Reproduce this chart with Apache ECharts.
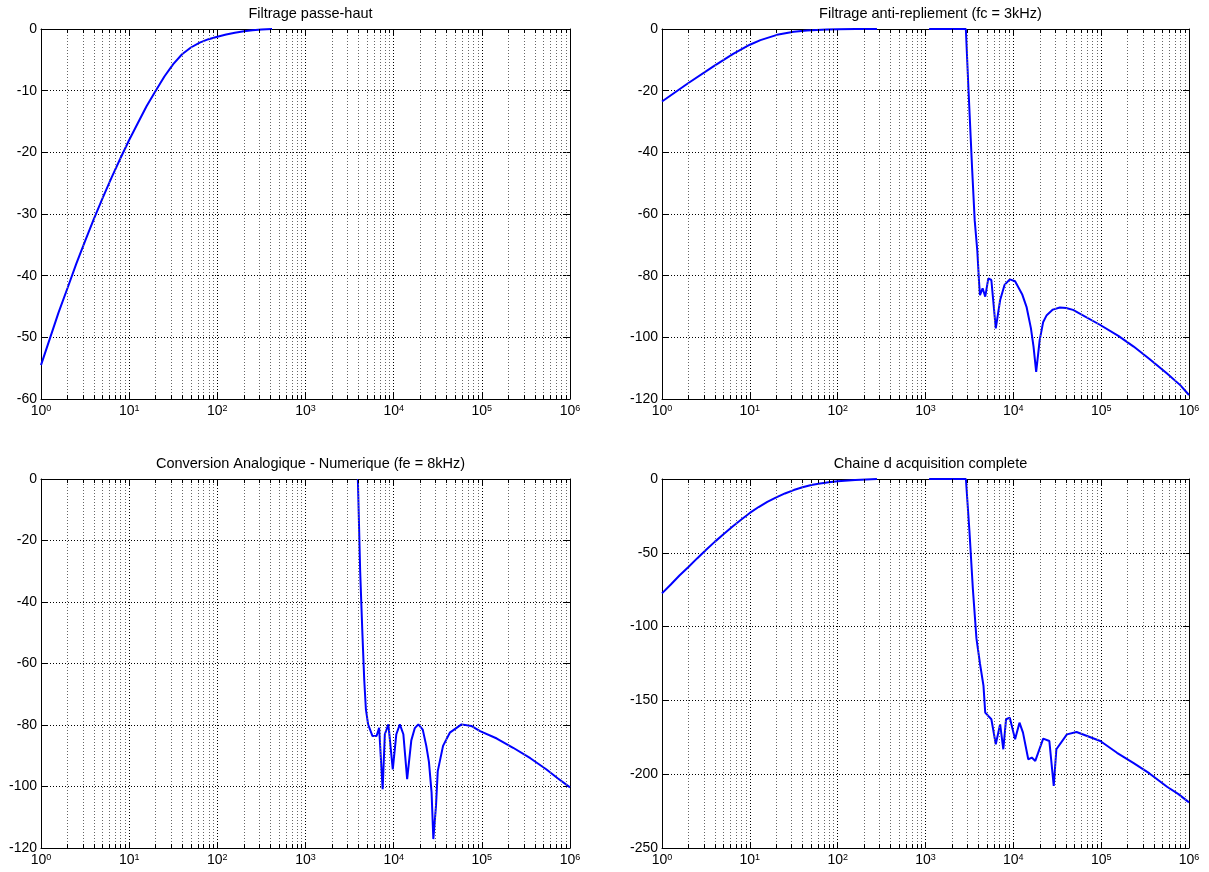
<!DOCTYPE html>
<html>
<head>
<meta charset="utf-8">
<title>Chaine d acquisition</title>
<script src="https://cdn.jsdelivr.net/npm/echarts@6/dist/echarts.min.js"></script>
<style>
    html, body { margin: 0; padding: 0; background: #fff; }
    #chart { width: 1209px; height: 872px; }
</style>
</head>
<body>
<div id="chart"></div>
<script>
    // Filtrage passe-haut
    let freqHP = [1, 1.26, 1.58, 2, 2.51, 3.16, 3.98, 5.01, 6.31, 7.94, 10, 12.6, 15.8, 20, 25.1, 31.6,
        39.8, 50.1, 63.1, 79.4, 100, 126, 158, 200, 251, 316, 417]
    let dbHP = [-54.5, -50.2, -46, -42, -38.1, -34.4, -30.8, -27.4, -24.1, -21, -18, -15.2, -12.5, -10,
        -7.7, -5.7, -4.1, -3, -2.2, -1.65, -1.25, -0.9, -0.6, -0.37, -0.2, -0.08, 0]

    // Filtrage anti-repliement (null = courbe cachee sous le cadre a 0 dB)
    let freqAA = [1, 2, 3.85, 6.46, 10, 13.2, 20.4, 31.6, 44.7, 57.5, 75, 100, 160, 280, 600, 1100, 2880,
        3090, 3390, 3630, 3890, 4070, 4170, 4470, 4790, 5190, 5620, 6310, 7080, 7940, 9120, 10470,
        12590, 14130, 15850, 16980, 18200, 19950, 21880, 23990, 28180, 33880, 39810, 47860, 97720,
        158500, 234400, 354800, 562300, 794300, 1000000]
    let dbAA = [-23.5, -17.5, -12.1, -8.05, -5.1, -3.6, -1.9, -0.9, -0.47, -0.3, -0.17, -0.1, -0.04, 0,
        null, 0, 0,
        -20, -45, -62, -72, -82, -86.3, -84.1, -86.8, -80.9, -81.4, -97.1, -87.9, -83, -81.2, -81.8,
        -86, -90.1, -97, -103, -111.2, -100.9, -95, -92.8, -91, -90.3, -90.5, -91.1, -96,
        -99.6, -103, -107, -111.7, -115.5, -118.7]

    // Conversion analogique - numerique
    let freqAN = [3926, 4169, 4416, 4634, 4842, 5129, 5754, 6397, 6839, 7161, 7499, 7943, 8710,
        9772, 10720, 11750, 12880, 14220, 15850, 17380, 19050, 21380, 23440, 25120, 26920, 28180,
        30200, 31620, 36310, 43350, 58880, 75860, 95500, 147900, 226500, 354800, 537000, 724400, 1000000]
    let dbAN = [0, -30, -50, -65.2, -74.9, -79.8, -83.6, -83.6, -80.9, -81.4, -100.9, -83, -79.8,
        -94.4, -83, -79.8, -83, -97.6, -85, -81, -79.8, -81.5, -86.8, -92, -102, -117.1,
        -106.3, -95, -86.8, -82.5, -79.8, -80.3, -82, -84.4, -87.4, -90.8, -94.4, -97.3, -100.3]

    // Chaine d acquisition complete
    let freqCH = [1, 1.26, 1.58, 2, 2.51, 3.16, 3.98, 5.01, 6.31, 7.94, 10, 12.6, 15.8, 20, 25.1, 31.6,
        39.8, 50.1, 63.1, 79.4, 100, 158, 280, 600, 1100, 2884,
        3162, 3467, 3802, 4169, 4571, 4786, 5188, 5623, 6310, 7079, 7691, 8260, 9120, 10470,
        11750, 12880, 14790, 16220, 17780, 21880, 25700, 28840, 30900, 40740, 52480, 97720,
        151400, 234400, 354800, 562300, 758600, 1000000]
    let dbCH = [-77.5, -71.5, -65.4, -59.6, -53.8, -48.1, -42.6, -37.4, -32.3, -27.6, -23, -19, -15.5,
        -12.5, -9.8, -7.5, -5.6, -4.1, -3, -2.2, -1.6, -0.6, 0, null, 0, 0,
        -35, -75, -108, -125, -140, -158.3, -160.6, -162.8, -179.7, -166.2, -183.1, -162.8, -161.7, -176.4,
        -165.1, -171.8, -189.9, -188.7, -191, -175.9, -177.5, -207.9, -183.1, -173, -171.4, -177.5,
        -185.5, -192.5, -199.5, -208.5, -213.5, -219.1]

    let titles = ['Filtrage passe-haut', 'Filtrage anti-repliement (fc = 3kHz)',
        'Conversion Analogique - Numerique (fe = 8kHz)', 'Chaine d acquisition complete']
    let yMins = [-60, -120, -120, -250]
    let ySteps = [10, 20, 20, 50]
    let xDecades = [0, 1, 2, 3, 4, 5, 6]

    let panels = [
        {freq: freqHP, db: dbHP, left: 41, top: 29, width: 529, height: 370},
        {freq: freqAA, db: dbAA, left: 662, top: 29, width: 527, height: 370},
        {freq: freqAN, db: dbAN, left: 41, top: 479, width: 529, height: 369},
        {freq: freqCH, db: dbCH, left: 662, top: 479, width: 527, height: 369}
    ]

    const FONT = '"Liberation Sans", Arial, Helvetica, sans-serif'

    let option = {
        animation: false,
        textStyle: {fontFamily: FONT},
        title: [],
        grid: [],
        xAxis: [],
        yAxis: [],
        series: []
    }

    panels.forEach((p, i) => {
        let yMin = yMins[i]
        option.title.push({
            text: titles[i],
            left: p.left + p.width / 2,
            top: p.top - 28,
            textAlign: 'center',
            textStyle: {fontSize: 14.5, fontWeight: 'normal', color: '#000', fontFamily: FONT}
        })
        option.grid.push({left: p.left, top: p.top, width: p.width, height: p.height})

        let xBase = {
            type: 'log',
            logBase: 10,
            min: Math.pow(10, xDecades[0]),
            max: Math.pow(10, xDecades[xDecades.length - 1]),
            gridIndex: i,
            axisLine: {onZero: false, lineStyle: {color: '#000', width: 1}},
            axisTick: {inside: true, length: 6, lineStyle: {color: '#000'}}
        }
        option.xAxis.push(Object.assign({}, xBase, {
            position: 'bottom',
            axisLabel: {
                margin: 5,
                formatter: v => '{b|10}{s|' + Math.round(Math.log10(v)) + '}',
                rich: {
                    b: {fontSize: 14, lineHeight: 14, color: '#000', fontFamily: FONT,
                        padding: [2, 0, 0, 0], verticalAlign: 'bottom'},
                    s: {fontSize: 9, lineHeight: 9, color: '#000', fontFamily: FONT,
                        verticalAlign: 'top'}
                }
            },
            splitLine: {show: true, lineStyle: {color: '#000', type: [1, 2], width: 1}}
        }))
        option.xAxis.push(Object.assign({}, xBase, {
            position: 'top',
            axisLabel: {show: false},
            splitLine: {show: false}
        }))

        let yBase = {
            type: 'value',
            min: yMin,
            max: 0,
            interval: ySteps[i],
            gridIndex: i,
            axisLine: {show: true, onZero: false, lineStyle: {color: '#000', width: 1}},
            axisTick: {show: true, inside: true, length: 6, lineStyle: {color: '#000'}}
        }
        option.yAxis.push(Object.assign({}, yBase, {
            position: 'left',
            axisLabel: {margin: 4, fontSize: 14, color: '#000', fontFamily: FONT},
            splitLine: {show: true, lineStyle: {color: '#000', type: [1, 2], width: 1}}
        }))
        option.yAxis.push(Object.assign({}, yBase, {
            position: 'right',
            axisLabel: {show: false},
            splitLine: {show: false}
        }))

        // minor log grid + minor ticks (2..9 x 10^n)
        let tickLen = -yMin * 4 / p.height
        let minorData = []
        xDecades.slice(0, -1).forEach(n => {
            for (let k = 2; k <= 9; k++) {
                let v = k * Math.pow(10, n)
                minorData.push({xAxis: v, lineStyle: {color: '#666', type: [1, 2], width: 1}})
                minorData.push([{coord: [v, yMin]}, {coord: [v, yMin + tickLen]}])
                minorData.push([{coord: [v, 0]}, {coord: [v, -tickLen]}])
            }
        })
        option.series.push({
            type: 'line',
            xAxisIndex: 2 * i,
            yAxisIndex: 2 * i,
            data: [[1, yMin]],
            symbol: 'none',
            silent: true,
            z: 1,
            lineStyle: {width: 0},
            markLine: {
                silent: true,
                symbol: ['none', 'none'],
                label: {show: false},
                lineStyle: {color: '#000', type: 'solid', width: 1},
                emphasis: {disabled: true},
                data: minorData
            }
        })

        option.series.push({
            type: 'line',
            xAxisIndex: 2 * i,
            yAxisIndex: 2 * i,
            data: p.freq.map((f, j) => [f, p.db[j] === null ? '-' : p.db[j]]),
            symbol: 'none',
            showSymbol: false,
            connectNulls: false,
            z: 3,
            lineStyle: {color: '#0000ff', width: 2}
        })
    })

    let myChart = echarts.init(document.getElementById('chart'))
    myChart.setOption(option)
</script>
</body>
</html>
